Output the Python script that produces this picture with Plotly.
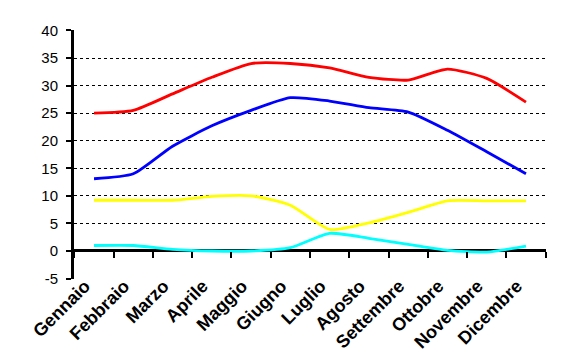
import plotly.graph_objects as go

months = ["Gennaio", "Febbraio", "Marzo", "Aprile", "Maggio", "Giugno",
          "Luglio", "Agosto", "Settembre", "Ottobre", "Novembre", "Dicembre"]
t_max = [25.0, 25.5, 28.5, 31.5, 34.0, 34.0, 33.2, 31.5, 31.0, 33.0, 31.3, 27.0]
t_min = [13.1, 14.0, 19.0, 22.7, 25.5, 27.8, 27.2, 26.0, 25.2, 21.9, 18.0, 14.0]
rain = [9.2, 9.2, 9.2, 9.9, 10.0, 8.3, 3.9, 5.1, 7.0, 9.1, 9.1, 9.1]
days = [1.0, 1.0, 0.3, 0.0, 0.0, 0.6, 3.2, 2.3, 1.2, 0.1, -0.2, 0.9]
y_ticks = [-5, 0, 5, 10, 15, 20, 25, 30, 35, 40]

series = [(t_max, "#FF0000"), (t_min, "#0000FF"), (rain, "#FFFF00"), (days, "#00FFFF")]

fig = go.Figure()
for vals, col in series:
    fig.add_trace(go.Scatter(x=months, y=vals, mode="lines",
                             line=dict(color=col, width=2.8, shape="spline", smoothing=0.6),
                             showlegend=False, hoverinfo="skip"))

n = len(months)
boundaries = [i - 0.5 for i in range(n + 1)]
# invisible trace to activate the second x axis (category boundary ticks on the zero line)
fig.add_trace(go.Scatter(x=list(range(n)), y=[None] * n, xaxis="x2",
                         showlegend=False, hoverinfo="skip"))

ymin, ymax = y_ticks[0], y_ticks[-1]
pad = 0.08
lo, hi = ymin - pad, ymax + pad
xpad = 0.01

fig.update_layout(
    width=555, height=354,
    margin=dict(l=66, r=17, t=22, b=83, autoexpand=False),
    paper_bgcolor="white", plot_bgcolor="white",
    font=dict(family="Liberation Sans, Arial, sans-serif", color="black"),
    xaxis=dict(type="category", categoryorder="array", categoryarray=months,
               range=[-0.5 - xpad, n - 0.5 + xpad], showgrid=False, zeroline=False,
               showline=False, ticks="", tickangle=-45, automargin=False,
               ticklabelshift=-9, ticklabelstandoff=-8,
               tickfont=dict(size=18, family="Liberation Sans, Arial, sans-serif",
                             weight="bold", color="black")),
    xaxis2=dict(type="linear", range=[-0.5 - xpad, n - 0.5 + xpad], overlaying="x",
                anchor="free", position=(0 - lo) / (hi - lo), automargin=False,
                showgrid=False, zeroline=False, showline=False,
                tickmode="array", tickvals=boundaries, ticks="outside",
                ticklen=6, tickwidth=2, tickcolor="black", showticklabels=False),
    yaxis=dict(range=[lo, hi], tickvals=y_ticks, ticktext=[str(v) for v in y_ticks],
               showgrid=True, gridcolor="black", gridwidth=1, griddash="3px,3px",
               zeroline=True, zerolinecolor="black", zerolinewidth=3,
               showline=True, linewidth=3, linecolor="black",
               ticks="outside", ticklen=5, tickwidth=2, tickcolor="black",
               ticklabelstandoff=5, automargin=False,
               tickfont=dict(size=15, color="black")),
)

fig.write_html("out.html")
